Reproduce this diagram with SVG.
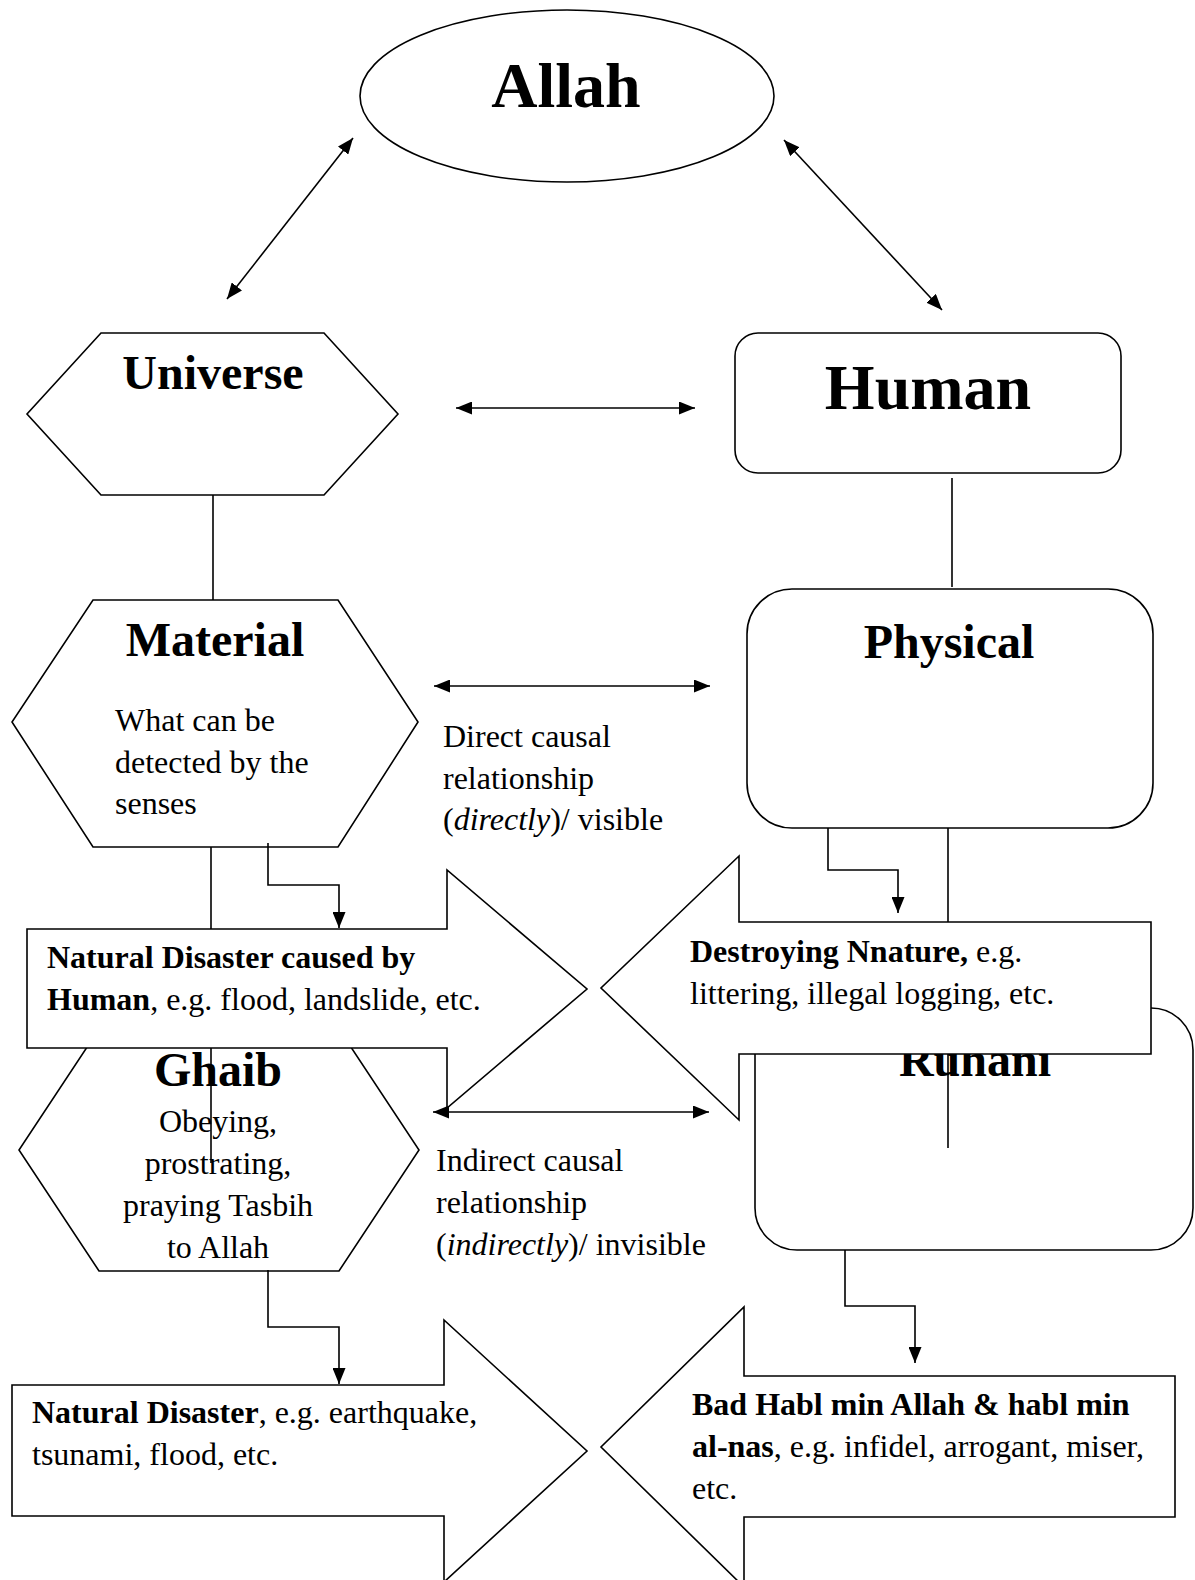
<svg xmlns="http://www.w3.org/2000/svg" width="1195" height="1580" viewBox="0 0 1195 1580">
<style>
.s{fill:#fff;stroke:#000;stroke-width:1.6}
.c{fill:none;stroke:#000;stroke-width:1.6}
.t{font-family:"Liberation Serif","Times New Roman",serif;fill:#000}
.h48{font-size:48px;font-weight:bold}
.h64{font-size:64px;font-weight:bold}
.b{font-size:32px}
.bd{font-weight:bold}
.it{font-style:italic}
.mid{text-anchor:middle}
</style>
<defs>
<marker id="ah" viewBox="0 0 16 13" refX="16" refY="6.5" markerWidth="16" markerHeight="13" markerUnits="userSpaceOnUse" orient="auto-start-reverse"><path d="M0,0 L16,6.5 L0,13 z" fill="#000"/></marker>
</defs>
<rect width="1195" height="1580" fill="#fff"/>
<g id="allah"><ellipse class="s" cx="567" cy="96" rx="207" ry="86"/><text class="t h64 mid" x="566" y="107">Allah</text></g>
<g id="universe"><polygon class="s" points="101,333 324,333 398,414 324,495 101,495 27,414"/><text class="t h48 mid" x="213" y="389">Universe</text></g>
<g id="human"><rect class="s" x="735" y="333" width="386" height="140" rx="23"/><text class="t h64 mid" x="928" y="409">Human</text></g>
<g id="material"><polygon class="s" points="93,600 338,600 418,722 338,847 93,847 12,722"/><text class="t h48 mid" x="215" y="656">Material</text>
<text class="t b" x="115" y="731">What can be</text><text class="t b" x="115" y="773">detected by the</text><text class="t b" x="115" y="814">senses</text></g>
<g id="physical"><rect class="s" x="747" y="589" width="406" height="239" rx="45"/><text class="t h48 mid" x="949" y="658">Physical</text></g>
<g id="direct-label"><text class="t b" x="443" y="747">Direct causal</text><text class="t b" x="443" y="789">relationship</text><text class="t b" x="443" y="830">(<tspan class="it">directly</tspan>)/ visible</text></g>
<g id="ghaib"><polygon class="s" points="99,1029 339,1029 419,1150 339,1271 99,1271 19,1150"/><text class="t h48 mid" x="218" y="1086">Ghaib</text>
<text class="t b mid" x="218" y="1132">Obeying,</text><text class="t b mid" x="218" y="1174">prostrating,</text><text class="t b mid" x="218" y="1216">praying Tasbih</text><text class="t b mid" x="218" y="1258">to Allah</text></g>
<g id="ruhani"><rect class="s" x="755" y="1008" width="438" height="242" rx="42"/><text class="t h48 mid" x="975" y="1076">Ruhani</text></g>
<g id="indirect-label"><text class="t b" x="436" y="1171">Indirect causal</text><text class="t b" x="436" y="1213">relationship</text><text class="t b" x="436" y="1255">(<tspan class="it">indirectly</tspan>)/ invisible</text></g>
<g id="connectors">
<line class="c" x1="353" y1="138" x2="227" y2="299" marker-start="url(#ah)" marker-end="url(#ah)"/>
<line class="c" x1="784" y1="140" x2="942" y2="310" marker-start="url(#ah)" marker-end="url(#ah)"/>
<line class="c" x1="456" y1="408" x2="695" y2="408" marker-start="url(#ah)" marker-end="url(#ah)"/>
<line class="c" x1="213" y1="495" x2="213" y2="600"/>
<line class="c" x1="952" y1="478" x2="952" y2="587"/>
<line class="c" x1="434" y1="686" x2="710" y2="686" marker-start="url(#ah)" marker-end="url(#ah)"/>
<line class="c" x1="211" y1="847" x2="211" y2="1163"/>
<line class="c" x1="948" y1="828" x2="948" y2="1148"/>
<path class="c" d="M268,843 V885 H339 V928" marker-end="url(#ah)"/>
<path class="c" d="M828,828 V870 H898 V913" marker-end="url(#ah)"/>
<line class="c" x1="433" y1="1112" x2="709" y2="1112" marker-start="url(#ah)" marker-end="url(#ah)"/>
<path class="c" d="M268,1270 V1327 H339 V1384" marker-end="url(#ah)"/>
<path class="c" d="M845,1250 V1306 H915 V1363" marker-end="url(#ah)"/>
</g>
<g id="disaster-by-human"><polygon class="s" points="27,929 447,929 447,870 587,989 447,1108 447,1048 27,1048"/>
<text class="t b" x="47" y="968"><tspan class="bd">Natural Disaster caused by</tspan></text><text class="t b" x="47" y="1010"><tspan class="bd">Human</tspan>, e.g. flood, landslide, etc.</text></g>
<g id="destroying-nature"><polygon class="s" points="1151,922 739,922 739,856 601,988 739,1120 739,1054 1151,1054"/>
<text class="t b" x="690" y="962"><tspan class="bd">Destroying Nnature,</tspan> e.g.</text><text class="t b" x="690" y="1004">littering, illegal logging, etc.</text></g>
<g id="natural-disaster"><polygon class="s" points="12,1385 444,1385 444,1320 587,1451 444,1582 444,1516 12,1516"/>
<text class="t b" x="32" y="1423"><tspan class="bd">Natural Disaster</tspan>, e.g. earthquake,</text><text class="t b" x="32" y="1465">tsunami, flood, etc.</text></g>
<g id="bad-habl"><polygon class="s" points="1175,1376 744,1376 744,1307 601,1447 744,1587 744,1517 1175,1517"/>
<text class="t b" x="692" y="1415"><tspan class="bd">Bad Habl min Allah &amp; habl min</tspan></text><text class="t b" x="692" y="1457"><tspan class="bd">al-nas</tspan>, e.g. infidel, arrogant, miser,</text><text class="t b" x="692" y="1499">etc.</text></g>
</svg>
